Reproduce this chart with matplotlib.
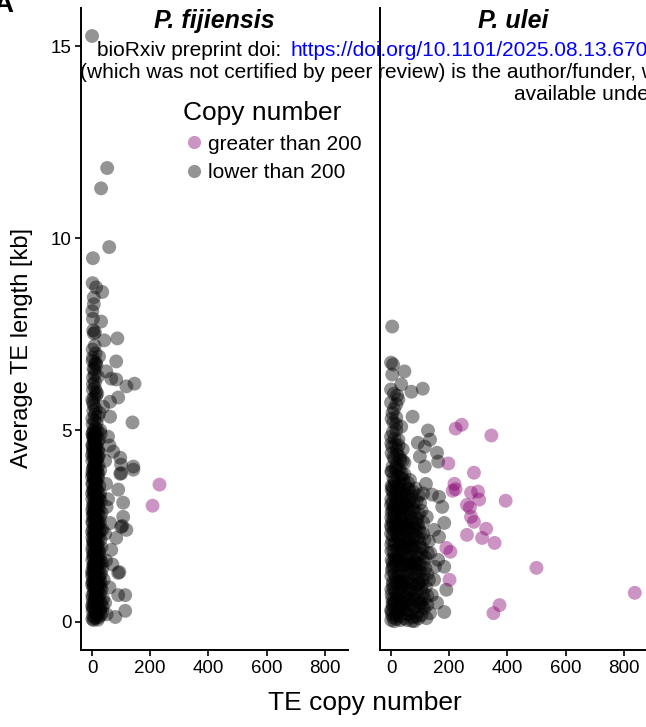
import numpy as np
import matplotlib.pyplot as plt
from matplotlib.lines import Line2D

# ---- data ----
# P. fijiensis, copy number < 200 (scattered + main column)
fij_low_copy = [0, 52, 31, 59, 3, 2, 14, 35, 6, 6, 3, 31, 6, 10, 42, 87, 3, 24, 83, 13, 10, 8, 49, 3, 66, 83,
                146, 118, 10, 14, 18, 90, 62, 3, 38, 62, 10, 20, 139, 3, 28, 55, 73, 97, 142, 100, 97, 100,
                142, 90, 107, 107, 100, 104, 118, 83, 62, 66, 90, 94, 90, 114, 114, 80, 60, 70, 55, 60, 45,
                48, 50, 45, 48, 45, 50, 40,
                1, 4, 9, 15, 22, 30, 2, 7, 12, 18, 26, 35, 3, 10, 16, 24, 1, 6, 13, 20, 28, 38, 4, 9, 17, 25, 33,
                2, 8, 14, 21, 30, 1, 5, 11, 18, 26, 3, 9, 15, 23, 35, 1, 6, 12, 19, 28, 4, 10, 16, 24, 32, 2,
                7, 13, 20, 29, 1, 5, 11, 17, 25, 3, 8, 14, 22, 36, 1, 6, 12, 19, 28, 4, 10, 16, 24, 2,
                7, 13, 21, 30, 1, 5, 11, 18, 3, 9, 15, 25, 1, 6, 12, 20, 4, 10, 16, 28, 2,
                7, 13, 22, 1, 5, 10, 17, 3, 8, 14, 26, 1, 6, 11, 19, 3, 9, 15, 30, 5, 12,
                2, 8, 16, 4, 12, 25, 1, 7, 3, 10, 20, 5, 15, 2, 9]
fij_low_len = [15.27, 11.83, 11.3, 9.77, 9.48, 8.83, 8.72, 8.6, 8.46, 8.28, 7.9, 7.83, 7.52, 7.55, 7.34, 7.39,
               6.89, 6.92, 6.79, 6.76, 6.72, 6.58, 6.53, 6.37, 6.34, 6.32, 6.21, 6.14, 6.1, 6.0, 5.95, 5.85,
               5.74, 5.72, 5.61, 5.35, 5.4, 5.35, 5.2, 4.93, 5.0, 4.83, 4.44, 4.28, 4.05, 4.1, 3.86, 3.88,
               3.97, 3.45, 3.11, 2.74, 2.48, 2.5, 2.4, 2.19, 2.58, 1.88, 1.28, 1.3, 0.7, 0.7, 0.29, 0.13, 0.9,
               1.5, 3.2, 4.6, 4.2, 3.6, 3.0, 2.3, 1.6, 0.5, 0.2, 1.1,
               0.08, 0.15, 0.1, 0.2, 0.12, 0.18, 0.3, 0.35, 0.28, 0.4, 0.33, 0.25, 0.5, 0.55, 0.6, 0.52, 0.7,
               0.75, 0.68, 0.8, 0.72, 0.6, 0.9, 0.95, 0.88, 0.98, 0.85,
               1.05, 1.12, 1.08, 1.15, 1.02, 1.25, 1.3, 1.28, 1.35, 1.22, 1.45, 1.5, 1.42, 1.55, 1.4, 1.62,
               1.68, 1.65, 1.72, 1.6, 1.8, 1.85, 1.9, 1.82, 1.95, 1.97,
               2.05, 2.1, 2.02, 2.15, 2.2, 2.28, 2.3, 2.25, 2.35, 2.42, 2.5, 2.45, 2.55, 2.4, 2.62, 2.68, 2.7,
               2.65, 2.75, 2.82, 2.88, 2.85, 2.95, 2.98,
               3.05, 3.1, 3.02, 3.15, 3.2, 3.28, 3.3, 3.25, 3.42, 3.5, 3.45, 3.55, 3.62, 3.7, 3.68, 3.75,
               3.85, 3.9, 3.82, 3.95, 3.98,
               4.05, 4.12, 4.08, 4.2, 4.28, 4.3, 4.25, 4.42, 4.5, 4.45, 4.4, 4.62, 4.68, 4.65, 4.7, 4.82,
               4.88, 4.85, 4.9, 5.0, 5.05,
               5.15, 5.25, 5.2, 5.5, 5.55, 5.45, 5.8, 5.85, 6.2, 6.25, 6.4, 6.6, 6.7, 7.1, 7.2]
# extra points in the solid black core of the P. fijiensis column
fij_core_copy = [5, 12, 20, 27, 0, 8, 14, 19, 31, 2, 11, 23, 6, 15, 29, 0, 36, 18,
                 4, 10, 17, 25, 0, 7, 13, 20, 31, 3, 9, 16, 22, 27, 1, 12, 34, 6,
                 4, 10, 16, 23, 0, 8, 13, 19, 30, 2, 9, 15, 21, 27, 1, 12, 33, 6,
                 4, 10, 16, 23, 0, 8, 13, 19, 28, 2, 9, 15, 22, 1, 12, 6, 18,
                 4, 10, 16, 22, 0, 8, 13, 19, 2, 9, 15, 1, 12, 6, 24, 18,
                 1, 6, 14, 3, 9, 2, 12, 4, 1,
                 3, 10, 18, 26, 1, 7, 15, 22, 4, 12, 20, 2, 9, 17, 25, 5, 13, 0, 8, 16, 21, 3, 11, 6]
fij_core_len = [0.05, 0.22, 0.06, 0.3, 0.42, 0.46, 0.12, 0.58, 0.5, 0.62, 0.82, 0.66, 0.92, 0.74, 0.9, 0.98, 0.4, 0.95,
                1.02, 1.2, 1.05, 1.4, 1.32, 1.38, 1.55, 1.48, 1.25, 1.72, 1.78, 1.62, 1.92, 1.7, 1.88, 1.98, 1.55, 1.5,
                2.08, 2.18, 2.02, 2.22, 2.35, 2.38, 2.52, 2.45, 2.4, 2.58, 2.72, 2.62, 2.8, 2.6, 2.9, 2.95, 2.85, 2.85,
                3.08, 3.18, 3.02, 3.2, 3.35, 3.38, 3.55, 3.4, 3.35, 3.58, 3.72, 3.62, 3.85, 3.88, 3.98, 3.8, 3.92,
                4.02, 4.18, 4.0, 4.3, 4.35, 4.38, 4.55, 4.45, 4.58, 4.72, 4.62, 4.9, 4.95, 4.78, 4.75, 5.0,
                5.3, 5.65, 5.9, 6.05, 6.45, 6.8, 7.0, 7.6, 8.1,
                0.38, 0.64, 0.86, 1.1, 1.18, 1.44, 1.66, 1.84, 2.12, 2.32, 2.56, 2.76, 2.94, 3.12, 3.28, 3.46,
                3.66, 3.78, 4.08, 4.22, 4.48, 4.52, 4.68, 4.84]
# P. fijiensis, copy number > 200
fij_high_copy = [232, 208]
fij_high_len = [3.58, 3.03]

# P. ulei, copy number < 200
ule_low_copy = [4, 0, 7, 46, 4, 109, 70, 74, 127, 134, 92, 116, 158, 99, 162, 116, 183, 165, 183, 190, 183,
                134, 158, 148, 165, 141, 176, 123, 148, 162, 151, 120, 130, 135, 140, 125,
                1, 8, 18, 30, 45, 60, 75, 90, 105, 3, 14, 25, 38, 52, 68, 82, 98, 115, 5,
                10, 22, 35, 48, 62, 78, 95, 110, 2, 15, 28, 42, 56, 70, 86, 102, 120, 6,
                18, 32, 46, 60, 75, 90, 108, 1, 12, 25, 40, 54, 68, 84, 100, 125, 5, 20, 35,
                50, 64, 80, 96, 112, 2, 15, 28, 44, 58, 72, 88, 104, 8, 22, 38, 52, 66, 82,
                1, 14, 30, 46, 60, 76, 92, 6, 20, 36, 52, 68, 85, 2, 16, 28, 44, 62, 100,
                8, 24, 40, 56, 74, 90, 1, 14, 32, 48, 64, 80, 5, 20, 38, 105,
                10, 26, 44, 60, 78, 1, 16, 34, 52, 70, 95, 6, 22, 40, 58, 110,
                2, 14, 30, 48, 8, 24, 42, 65, 1, 18, 36,
                5, 20, 46, 12, 30, 2, 21, 40, 4, 15, 0, 25, 35, 18, 8,
                18, 5, 18, 0, 25, 21, 10, 0, 35]
ule_low_len = [7.7, 6.76, 6.71, 6.53, 6.45, 6.08, 6.0, 5.35, 4.99, 4.75, 4.67, 4.57, 4.41, 4.31, 4.18, 4.05,
               2.58, 2.22, 1.44, 0.84, 0.26, 0.23, 0.5, 1.1, 3.26, 3.32, 3.0, 2.74, 2.4, 1.62, 1.44, 3.6,
               2.1, 1.8, 0.7, 0.45,
               0.05, 0.12, 0.08, 0.15, 0.1, 0.2, 0.12, 0.25, 0.18, 0.3, 0.35, 0.28, 0.4, 0.32, 0.45, 0.38,
               0.42, 0.35, 0.48,
               0.55, 0.6, 0.52, 0.65, 0.58, 0.7, 0.62, 0.75, 0.72, 0.8, 0.85, 0.78, 0.9, 0.82, 0.95, 0.88,
               0.92, 0.98,
               1.02, 1.08, 1.05, 1.12, 1.0, 1.15, 1.1, 1.2, 1.25, 1.3, 1.22, 1.35, 1.28, 1.38, 1.32, 1.25,
               1.42, 1.48, 1.45,
               1.52, 1.55, 1.6, 1.5, 1.58, 1.62, 1.68, 1.72, 1.65, 1.75, 1.7, 1.8, 1.78, 1.85, 1.9, 1.88,
               1.95, 1.92, 1.98,
               2.02, 2.08, 2.05, 2.12, 2.1, 2.15, 2.2, 2.25, 2.3, 2.28, 2.35, 2.32, 2.4, 2.45, 2.48, 2.42,
               2.5, 2.45, 2.35,
               2.55, 2.6, 2.58, 2.65, 2.6, 2.7, 2.72, 2.78, 2.75, 2.82, 2.8, 2.88, 2.92, 2.95, 2.98, 2.9,
               3.02, 3.08, 3.05, 3.12, 3.1, 3.2, 3.25, 3.22, 3.3, 3.28, 3.3, 3.4, 3.45, 3.42, 3.48, 3.35,
               3.55, 3.6, 3.62, 3.58, 3.75, 3.8, 3.72, 3.7, 3.92, 3.95, 3.88,
               4.05, 4.1, 4.15, 4.25, 4.3, 4.4, 4.36, 4.5, 4.57, 4.62, 4.83, 4.75, 5.09, 5.0, 5.2,
               5.33, 5.45, 5.67, 5.72, 5.8, 5.9, 5.95, 6.06, 6.19]
# extra points in the solid black core of the P. ulei cloud
ule_core_copy = [3, 11, 21, 33, 41, 55, 66, 80, 95, 110, 122, 6, 17, 28, 47, 58, 72, 87, 102, 0,
                 4, 13, 26, 37, 50, 64, 74, 88, 100, 115, 8, 19, 31, 44, 59, 81, 93, 107, 1, 125,
                 7, 16, 29, 35, 49, 57, 71, 80, 96, 104, 118, 3, 22, 43, 63, 77, 92, 112, 9, 130,
                 5, 11, 24, 33, 47, 55, 69, 77, 92, 100, 118, 1, 19, 40, 61, 85, 108, 12, 30, 126,
                 4, 10, 24, 38, 50, 57, 71, 82, 98, 110, 0, 18, 33, 48, 65, 78, 95, 12, 26, 115,
                 4, 11, 28, 35, 52, 60, 70, 85, 96, 2, 17, 26, 43, 58, 76, 92, 10, 31, 110, 0,
                 4, 13, 20, 30, 40, 55, 66, 75, 88, 2, 18, 28, 46, 62, 84, 9, 36, 100, 0, 24,
                 5, 12, 22, 34, 46, 58, 3, 16, 28, 40, 8, 20, 32, 1, 12, 26, 6, 18, 2, 10]
ule_core_len = [0.2, 0.02, 0.28, 0.05, 0.35, 0.05, 0.3, 0.02, 0.1, 0.4, 0.1, 0.42, 0.18, 0.45, 0.22, 0.44, 0.03, 0.15, 0.48, 0.3,
                0.6, 0.52, 0.7, 0.95, 0.55, 0.85, 0.6, 0.78, 0.52, 0.6, 0.88, 0.7, 0.62, 0.96, 0.72, 0.58, 0.98, 0.96, 0.85, 0.68,
                1.05, 1.15, 1.2, 1.02, 1.18, 1.45, 1.42, 1.2, 1.02, 1.48, 1.4, 1.35, 1.05, 1.48, 1.05, 1.5, 1.3, 1.25, 1.46, 1.1,
                1.55, 1.75, 1.58, 1.8, 1.88, 1.62, 1.52, 1.9, 1.7, 1.95, 1.68, 1.85, 1.62, 1.52, 1.98, 1.55, 1.92, 1.6, 1.98, 1.8,
                2.12, 2.38, 2.18, 2.02, 2.22, 2.45, 2.05, 2.25, 2.08, 2.3, 2.3, 2.42, 2.48, 2.4, 2.2, 2.48, 2.45, 2.02, 2.22, 2.15,
                2.62, 2.9, 2.52, 2.68, 2.55, 2.92, 2.72, 2.58, 2.82, 2.85, 2.65, 2.88, 2.7, 2.98, 2.95, 2.55, 2.72, 2.92, 2.6, 2.52,
                3.1, 3.02, 3.15, 3.35, 3.18, 3.05, 3.2, 3.4, 3.15, 3.45, 3.38, 3.5, 3.35, 3.45, 3.48, 3.3, 3.02, 3.1, 3.05, 3.25,
                3.52, 3.68, 3.55, 3.78, 3.85, 3.62, 3.92, 4.02, 3.98, 4.2, 4.3, 4.48, 4.22, 4.65, 4.78, 4.6, 4.95, 5.15, 5.3, 5.55]
# P. ulei, copy number > 200
ule_high_copy = [222, 243, 345, 197, 285, 218, 212, 222, 275, 299, 303, 394, 261, 271, 275, 285, 327, 261,
                 313, 356, 190, 204, 500, 201, 838, 373, 352]
ule_high_len = [5.04, 5.14, 4.86, 4.13, 3.89, 3.6, 3.42, 3.46, 3.37, 3.4, 3.19, 3.16, 3.05, 2.98, 2.74,
                2.61, 2.43, 2.27, 2.19, 2.06, 1.93, 1.83, 1.41, 1.1, 0.76, 0.44, 0.23]

species = ["P. fijiensis", "P. ulei"]
x_ticks = [0, 200, 400, 600, 800]
y_ticks = [0, 5, 10, 15]

low_col = (0, 0, 0, 0.42)
high_col = (0.52, 0.0, 0.44, 0.42)

plt.rcParams['font.family'] = ['Liberation Sans', 'DejaVu Sans']

W, H = 646, 727
fig = plt.figure(figsize=(W / 100, H / 100), dpi=100)

ax1 = fig.add_axes([81 / W, 1 - 650 / H, 267 / W, 642 / H])
ax2 = fig.add_axes([380 / W, 1 - 650 / H, 267 / W, 642 / H])

data = [(fij_low_copy + fij_core_copy, fij_low_len + fij_core_len, fij_high_copy, fij_high_len),
        (ule_low_copy + ule_core_copy, ule_low_len + ule_core_len, ule_high_copy, ule_high_len)]

for ax, (lx, ly, hx, hy), name in zip([ax1, ax2], data, species):
    ax.scatter(lx, ly, s=100, color=low_col, edgecolors='none', zorder=2)
    ax.scatter(hx, hy, s=100, color=high_col, edgecolors='none', zorder=3)
    ax.set_xlim(-38, 880)
    ax.set_ylim(-0.73, 16.0)
    ax.set_xticks(x_ticks)
    ax.set_yticks(y_ticks)
    for s in ['top', 'right']:
        ax.spines[s].set_visible(False)
    for s in ['left', 'bottom']:
        ax.spines[s].set_linewidth(1.4)
    ax.tick_params(length=4, width=1.2, labelsize=13.5, pad=3)
    ax.text(0.5, 0.98, name, transform=ax.transAxes, ha='center', va='center',
            fontsize=18, fontweight='bold', fontstyle='italic')

ax2.tick_params(axis='y', left=False, labelleft=False)

fig.text(22 / W, 1 - 348 / H, "Average TE length [kb]", rotation=90, ha='center', va='center', fontsize=17)
fig.text(365 / W, 1 - 703 / H, "TE copy number", ha='center', va='center', fontsize=19)

# legend
handles = [Line2D([], [], ls='none', marker='o', ms=9.5, mec='none', color=high_col),
           Line2D([], [], ls='none', marker='o', ms=9.5, mec='none', color=low_col)]
leg = fig.legend(handles, ["greater than 200", "lower than 200"], title="Copy number",
                 loc='upper left', bbox_to_anchor=(173 / W, 1 - 91 / H), frameon=False,
                 fontsize=15, title_fontsize=19, handletextpad=0.2, labelspacing=0.45,
                 borderpad=0, handlelength=1.0, alignment='left')

# panel tag
fig.text(-7 / W, 1 - 12 / H, "A", fontsize=20, fontweight='bold', ha='left', va='baseline')

# bioRxiv overlay
fig.text(97 / W, 1 - 50 / H, "bioRxiv preprint doi: ", fontsize=15, ha='left', va='center')
fig.text(291 / W, 1 - 50 / H, "https://doi.org/10.1101/2025.08.13.670000", fontsize=15, color='blue',
         ha='left', va='center')
fig.text(80 / W, 1 - 72 / H, "(which was not certified by peer review) is the author/funder, who has granted",
         fontsize=15, ha='left', va='center')
fig.text(514 / W, 1 - 95 / H, "available under aCC-BY 4.0 International license.", fontsize=15,
         ha='left', va='center')

fig.savefig("out.png", dpi=100)
